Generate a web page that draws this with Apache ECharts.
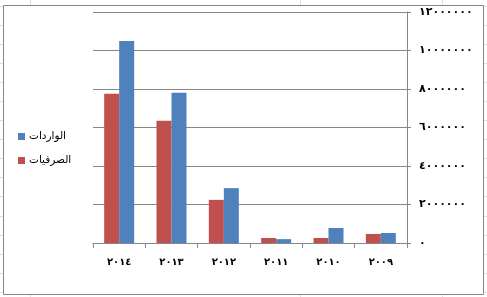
<!DOCTYPE html>
<html><head><meta charset="utf-8">
<script src="https://cdn.jsdelivr.net/npm/echarts@6/dist/echarts.min.js"></script>
<style>html,body{margin:0;padding:0;background:#fff}#c{width:487px;height:297px}</style>
</head><body><div id="c"></div>
<script>
var categories = ['٢٠١٤','٢٠١٣','٢٠١٢','٢٠١١','٢٠١٠','٢٠٠٩'];
var seriesNames = ['الواردات','الصرفيات'];
var imports = [10500000, 7800000, 2850000, 200000, 780000, 520000];
var expenses = [7750000, 6350000, 2240000, 260000, 260000, 470000];
var yTicks = [0, 2000000, 4000000, 6000000, 8000000, 10000000, 12000000];
var yTickLabels = ['٠','٢٠٠٠٠٠٠','٤٠٠٠٠٠٠','٦٠٠٠٠٠٠','٨٠٠٠٠٠٠','١٠٠٠٠٠٠٠','١٢٠٠٠٠٠٠'];

var chart = echarts.init(document.getElementById('c'), null, {renderer:'canvas'});
var bg = [];
var gl = '#dbe1ec';
[30, 300, 442].forEach(function(x){
  bg.push({type:'line', z:-100, shape:{x1:x+0.5,y1:0,x2:x+0.5,y2:297}, style:{stroke:gl,lineWidth:1}});
});
for (var y = 5.5; y < 297; y += 19.1) {
  bg.push({type:'line', z:-100, shape:{x1:0,y1:Math.round(y)+0.5,x2:487,y2:Math.round(y)+0.5}, style:{stroke:gl,lineWidth:1}});
}
bg.push({type:'rect', z:-50, shape:{x:3.5,y:5.5,width:480,height:289}, style:{fill:'#fff',stroke:'#868686',lineWidth:1}});

var font = "'DejaVu Sans', Arial, sans-serif";
chart.setOption({
  animation:false,
  textStyle:{fontFamily:font},
  graphic:{elements:bg},
  legend:{
    data:seriesNames, orient:'vertical', left:13, top:126,
    icon:'rect', itemWidth:7, itemHeight:7, itemGap:13,
    textStyle:{fontSize:10.5, color:'#000', fontFamily:font, padding:[0,0,0,-1]}
  },
  grid:{left:93, right:80, top:12, bottom:54},
  xAxis:{
    type:'category', data:categories,
    axisLine:{lineStyle:{color:'#868686'}},
    axisTick:{show:true, length:5, lineStyle:{color:'#868686'}},
    axisLabel:{fontSize:10, fontWeight:'bold', color:'#000', margin:14}
  },
  yAxis:{
    type:'value', position:'right', min:0, max:12000000, interval:2000000,
    axisLine:{show:true, lineStyle:{color:'#868686'}},
    axisTick:{show:true, length:4, lineStyle:{color:'#868686'}},
    splitLine:{lineStyle:{color:'#868686'}},
    axisLabel:{fontSize:11, fontWeight:'bold', color:'#000', margin:12,
      formatter:function(v){ var i = yTicks.indexOf(v); return i>=0 ? yTickLabels[i] : ''; }}
  },
  series:[
    {name:seriesNames[1], type:'bar', data:expenses, barWidth:15, barGap:'0%', itemStyle:{color:'#C0504D'}},
    {name:seriesNames[0], type:'bar', data:imports, barWidth:15, barGap:'0%', itemStyle:{color:'#4F81BD'}}
  ]
});
</script></body></html>
